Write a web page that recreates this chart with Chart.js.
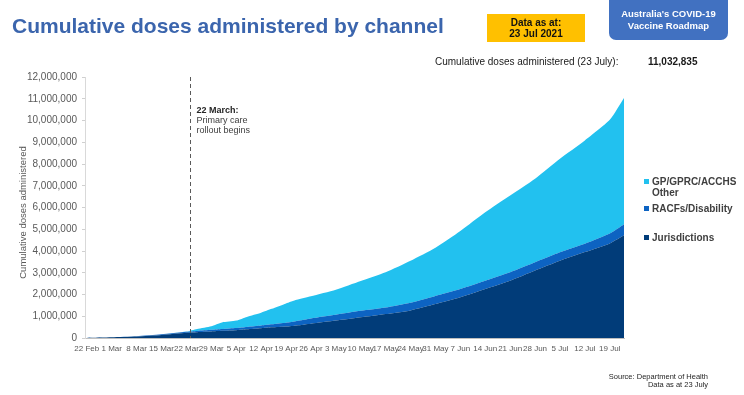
<!DOCTYPE html>
<html>
<head>
<meta charset="utf-8">
<script src="https://cdn.jsdelivr.net/npm/chart.js@4.4.1/dist/chart.umd.min.js"></script>
<style>
  html, body { margin: 0; padding: 0; background: #ffffff; }
  body { width: 744px; height: 395px; position: relative; overflow: hidden; font-family: "Liberation Sans", Arial, sans-serif; }
  #c { position: absolute; left: 0; top: 0; }
  .abs { position: absolute; white-space: nowrap; }
  #title { left: 12px; top: 15px; font-size: 21px; line-height: 21px; font-weight: bold; color: #3b65ad; }
  #dateBox { left: 487px; top: 14px; width: 98px; height: 28px; background: #ffc000; display: flex; flex-direction: column; align-items: center; justify-content: center; font-size: 10px; line-height: 11.5px; font-weight: bold; color: #111; }
  #roadBox { left: 609px; top: -8px; width: 119px; height: 48px; background: #4171c1; border-radius: 7px; display: flex; flex-direction: column; align-items: center; justify-content: center; padding-top: 8px; box-sizing: border-box; font-size: 9.5px; line-height: 12px; font-weight: bold; color: #ffffff; }
  #sumLabel { left: 435px; top: 57px; font-size: 10px; line-height: 10px; color: #1a1a1a; }
  #sumValue { left: 648px; top: 57px; font-size: 10px; line-height: 10px; font-weight: bold; color: #1a1a1a; }
  .leg { left: 652px; font-size: 10px; line-height: 11px; font-weight: bold; color: #404040; }
  .sq { position: absolute; width: 5px; height: 5px; left: 644px; }
  .src { right: 36px; font-size: 7.5px; line-height: 8px; color: #262626; text-align: right; }
</style>
</head>
<body>
<canvas id="c" width="744" height="395"></canvas>

<div id="title" class="abs">Cumulative doses administered by channel</div>
<div id="dateBox" class="abs"><div>Data as at:</div><div>23 Jul 2021</div></div>
<div id="roadBox" class="abs"><div>Australia's COVID-19</div><div>Vaccine Roadmap</div></div>
<div id="sumLabel" class="abs">Cumulative doses administered (23 July):</div>
<div id="sumValue" class="abs">11,032,835</div>

<div id="legend"></div>

<div class="abs src" style="top:373px;">Source: Department of Health</div>
<div class="abs src" style="top:381px;">Data as at 23 July</div>

<script>
// ---- Data (day offsets from 22 Feb 2021) ----
const days = [0, 7, 14, 21, 28, 31, 35, 38, 42, 45, 49, 52, 56, 59, 63, 70, 77, 84, 91, 98, 105, 112, 119, 126, 133, 140, 147, 151];

// cumulative doses by channel (not stacked)
const jurisdictions = [0, 30000, 65000, 140000, 240000, 270000, 300000, 330000, 360000, 400000, 450000, 490000, 530000, 580000, 660000, 800000, 950000, 1100000, 1270000, 1560000, 1870000, 2250000, 2630000, 3100000, 3550000, 3950000, 4350000, 4720000];
const racfs = [0, 5000, 15000, 30000, 45000, 55000, 75000, 85000, 100000, 110000, 125000, 140000, 170000, 200000, 240000, 270000, 300000, 300000, 350000, 370000, 380000, 380000, 390000, 380000, 390000, 380000, 450000, 510000];
const gpOther = [0, 0, 0, 0, 10000, 90000, 170000, 300000, 340000, 460000, 590000, 710000, 890000, 980000, 1020000, 1150000, 1370000, 1620000, 1930000, 2220000, 2670000, 3150000, 3530000, 3840000, 4300000, 4750000, 5230000, 5802835];

// x-axis tick labels (weekly)
const tickDays = [0, 7, 14, 21, 28, 35, 42, 49, 56, 63, 70, 77, 84, 91, 98, 105, 112, 119, 126, 133, 140, 147];
const tickLabels = ["22 Feb", "1 Mar", "8 Mar", "15 Mar", "22 Mar", "29 Mar", "5 Apr", "12 Apr", "19 Apr", "26 Apr", "3 May", "10 May", "17 May", "24 May", "31 May", "7 Jun", "14 Jun", "21 Jun", "28 Jun", "5 Jul", "12 Jul", "19 Jul"];

const seriesNames = ["Jurisdictions", "RACFs/Disability", "GP/GPRC/ACCHS Other"];
const seriesColors = ["#013c79", "#0d63c2", "#22c1ef"];

const annotationDay = 29;
const annotationLines = ["22 March:", "Primary care", "rollout begins"];
const yAxisTitle = "Cumulative doses administered";

// ---- Legend (HTML) ----
const legendItems = [
  { name: "GP/GPRC/ACCHS", extra: "Other", color: seriesColors[2], top: 175.5 },
  { name: "RACFs/Disability", color: seriesColors[1], top: 202.8 },
  { name: "Jurisdictions", color: seriesColors[0], top: 231.8 }
];
const legendEl = document.getElementById('legend');
legendItems.forEach(it => {
  const sq = document.createElement('div');
  sq.className = 'sq';
  sq.style.background = it.color;
  sq.style.top = (it.top + 3) + 'px';
  legendEl.appendChild(sq);
  const t = document.createElement('div');
  t.className = 'abs leg';
  t.style.top = it.top + 'px';
  t.innerHTML = it.name + (it.extra ? '<br>' + it.extra : '');
  legendEl.appendChild(t);
});

// ---- Chart ----
const toPts = arr => days.map((d, i) => ({ x: d, y: arr[i] }));

const overlay = {
  id: 'overlay',
  afterDatasetsDraw(chart) {
    const { ctx, scales: { x }, chartArea } = chart;
    const px = Math.round(x.getPixelForValue(annotationDay)) + 0.5;
    ctx.save();
    ctx.strokeStyle = '#5a5a5a';
    ctx.lineWidth = 1;
    ctx.setLineDash([4, 3]);
    ctx.beginPath();
    ctx.moveTo(px, chartArea.top);
    ctx.lineTo(px, chartArea.bottom);
    ctx.stroke();
    ctx.setLineDash([]);
    ctx.textBaseline = 'middle';
    ctx.textAlign = 'left';
    ctx.fillStyle = '#262626';
    ctx.font = 'bold 9px "Liberation Sans", Arial, sans-serif';
    ctx.fillText(annotationLines[0], px + 6, 111);
    ctx.fillStyle = '#404040';
    ctx.font = '9px "Liberation Sans", Arial, sans-serif';
    ctx.fillText(annotationLines[1], px + 6, 121);
    ctx.fillText(annotationLines[2], px + 6, 131);
    // y axis title
    ctx.translate(23, (chartArea.top + chartArea.bottom) / 2 + 5);
    ctx.rotate(-Math.PI / 2);
    ctx.textAlign = 'center';
    ctx.fillStyle = '#595959';
    ctx.font = '9.5px "Liberation Sans", Arial, sans-serif';
    ctx.fillText(yAxisTitle, 0, 0);
    ctx.restore();
  }
};

new Chart(document.getElementById('c'), {
  type: 'line',
  data: {
    datasets: [
      { label: seriesNames[0], data: toPts(jurisdictions), backgroundColor: seriesColors[0], borderWidth: 0, pointRadius: 0, fill: 'origin', tension: 0.2 },
      { label: seriesNames[1], data: toPts(racfs), backgroundColor: seriesColors[1], borderWidth: 0, pointRadius: 0, fill: '-1', tension: 0.2 },
      { label: seriesNames[2], data: toPts(gpOther), backgroundColor: seriesColors[2], borderWidth: 0, pointRadius: 0, fill: '-1', tension: 0.2 }
    ]
  },
  options: {
    responsive: false,
    animation: false,
    devicePixelRatio: 1,
    layout: { padding: { left: 0, right: 120, top: 77, bottom: 0 } },
    plugins: { legend: { display: false }, tooltip: { enabled: false } },
    scales: {
      x: {
        type: 'linear',
        min: -0.5,
        max: 151,
        afterFit(s) { s.height = 57; },
        afterBuildTicks(s) { s.ticks = tickDays.map(v => ({ value: v })); },
        grid: { display: false, drawTicks: false },
        border: { display: true, color: '#bfbfbf', width: 1 },
        ticks: {
          autoSkip: false,
          maxRotation: 0,
          minRotation: 0,
          padding: 6,
          color: '#595959',
          font: { family: '"Liberation Sans", Arial, sans-serif', size: 8 },
          callback: v => { const i = tickDays.indexOf(v); return i >= 0 ? tickLabels[i] : ''; }
        }
      },
      y: {
        stacked: true,
        min: 0,
        max: 12000000,
        afterFit(s) { s.width = 85; },
        grid: { display: true, drawOnChartArea: false, drawTicks: true, tickLength: 3, color: '#d0d0d0' },
        border: { display: true, color: '#d9d9d9', width: 1 },
        ticks: {
          stepSize: 1000000,
          padding: 5,
          color: '#595959',
          font: { family: '"Liberation Sans", Arial, sans-serif', size: 10 },
          callback: v => v.toLocaleString('en-US')
        }
      }
    }
  },
  plugins: [overlay]
});
</script>
</body>
</html>
